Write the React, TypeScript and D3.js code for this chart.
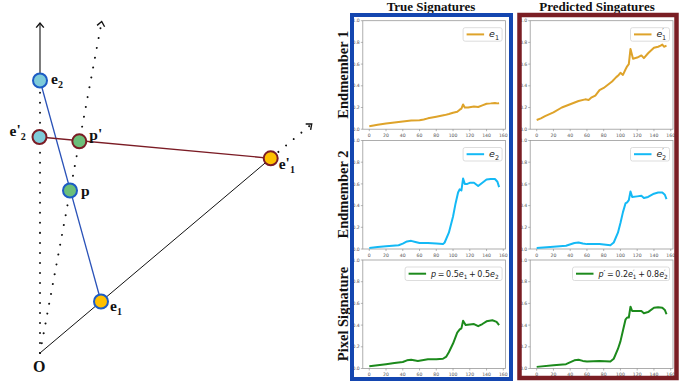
import React from 'react'
import * as d3 from 'd3'

// ---- data ----
const bandTicks = [0, 20, 40, 60, 80, 100, 120, 140, 160]
const valueTicks = [0, 0.2, 0.4, 0.6, 0.8, 1.0]

const trueE1: [number, number][] = [
  [0, 0.028], [5, 0.035], [10, 0.042], [20, 0.052], [30, 0.062], [40, 0.072], [50, 0.08],
  [60, 0.082], [65, 0.09], [70, 0.1], [80, 0.115], [90, 0.13], [95, 0.14], [100, 0.152],
  [105, 0.16], [108, 0.18], [110, 0.19], [112, 0.228], [114, 0.2], [118, 0.2], [125, 0.21],
  [130, 0.205], [135, 0.22], [140, 0.235], [145, 0.238], [150, 0.242], [153, 0.238], [155, 0.24],
]
const trueE2: [number, number][] = [
  [0, 0.01], [10, 0.018], [20, 0.025], [35, 0.035], [40, 0.05], [45, 0.07], [50, 0.075],
  [55, 0.065], [60, 0.055], [70, 0.055], [80, 0.05], [88, 0.045], [90, 0.06], [95, 0.15],
  [100, 0.3], [103, 0.42], [106, 0.52], [108, 0.55], [110, 0.54], [112, 0.65], [114, 0.6],
  [117, 0.6], [120, 0.61], [125, 0.61], [130, 0.58], [135, 0.61], [140, 0.64], [145, 0.645],
  [150, 0.645], [153, 0.62], [155, 0.57],
]
const trueP: [number, number][] = [
  [0, 0.02], [10, 0.03], [20, 0.04], [30, 0.05], [40, 0.06], [45, 0.075], [50, 0.08],
  [58, 0.07], [70, 0.085], [80, 0.085], [88, 0.09], [92, 0.11], [95, 0.15], [100, 0.23],
  [105, 0.33], [108, 0.36], [110, 0.37], [112, 0.44], [115, 0.4], [120, 0.405], [125, 0.41],
  [130, 0.39], [135, 0.41], [140, 0.435], [147, 0.445], [152, 0.43], [155, 0.4],
]
const predE1: [number, number][] = [
  [0, 0.085], [5, 0.1], [10, 0.12], [20, 0.155], [30, 0.2], [40, 0.23], [50, 0.26],
  [58, 0.275], [62, 0.27], [65, 0.29], [70, 0.31], [75, 0.36], [80, 0.38], [85, 0.41],
  [90, 0.44], [95, 0.48], [98, 0.5], [100, 0.52], [103, 0.5], [106, 0.55], [108, 0.58],
  [110, 0.6], [112, 0.74], [115, 0.65], [120, 0.66], [125, 0.68], [128, 0.655], [133, 0.7],
  [140, 0.75], [145, 0.76], [148, 0.77], [150, 0.78], [152, 0.76], [155, 0.77],
]
const predE2: [number, number][] = [
  [0, 0.01], [20, 0.02], [35, 0.03], [45, 0.055], [50, 0.06], [55, 0.05], [60, 0.045],
  [75, 0.045], [88, 0.035], [92, 0.06], [97, 0.15], [100, 0.24], [103, 0.34], [106, 0.42],
  [108, 0.43], [110, 0.45], [112, 0.53], [114, 0.48], [120, 0.485], [125, 0.49], [128, 0.47],
  [133, 0.48], [140, 0.51], [145, 0.52], [150, 0.52], [153, 0.5], [155, 0.46],
]
const predP: [number, number][] = [
  [0, 0.015], [20, 0.03], [35, 0.04], [45, 0.075], [50, 0.08], [55, 0.07], [60, 0.065],
  [75, 0.068], [88, 0.065], [92, 0.09], [97, 0.18], [100, 0.25], [103, 0.35], [106, 0.45],
  [108, 0.47], [110, 0.47], [112, 0.57], [114, 0.53], [120, 0.53], [125, 0.53], [128, 0.51],
  [133, 0.52], [140, 0.56], [145, 0.565], [150, 0.56], [153, 0.54], [155, 0.5],
]

const columnTitles = ['True Signatures', 'Predicted Singatures']
const rowTitles = ['Endmember 1', 'Endmember 2', 'Pixel Signature']

// diagram points (units from origin O, y up)
const diagramPoints = [
  { id: 'e2', x: 0, y: 272.5, fill: '#7ecbd9', stroke: '#1d5cc4' },
  { id: "e'2", x: -0.5, y: 216, fill: '#7ecbd9', stroke: '#7b1c25' },
  { id: "p'", x: 39.3, y: 211.7, fill: '#6bbf7a', stroke: '#7b1c25' },
  { id: 'p', x: 30, y: 162.5, fill: '#6bbf7a', stroke: '#1d5cc4' },
  { id: 'e1', x: 61, y: 51.5, fill: '#ffc000', stroke: '#1d5cc4' },
  { id: "e'1", x: 230.7, y: 194.7, fill: '#ffc000', stroke: '#7b1c25' },
]
const origin = { x: 0, y: 0 }
const arrowTips = [
  { x: 0, y: 330 },
  { x: 61.7, y: 331.5 },
  { x: 271.7, y: 229 },
]

const colors = { e1: '#dea32a', e2: '#14b9f5', p: '#1c8a1c' }

const sx = d3.scaleLinear().domain([0, 100]).range([40, 140])
const sy = d3.scaleLinear().domain([0, 100]).range([353, 253])

const pt = (id: string) => diagramPoints.find(d => d.id === id)!

const Label = ({ x, y, prime, sub, base = 'e' }: { x: number; y: number; prime?: boolean; sub?: string; base?: string }) => (
  <text x={x} y={y} fontFamily="'Liberation Serif', 'Times New Roman', serif" fontWeight="bold" fontSize={15.5} fill="#111">
    {base}
    {prime && <tspan dy={-1}>'</tspan>}
    {sub && <tspan fontSize={10} dy={prime ? 5 : 4}>{sub}</tspan>}
  </text>
)

const Chevron = ({ from, tip }: { from: { x: number; y: number }; tip: { x: number; y: number } }) => {
  const x1 = sx(from.x), y1 = sy(from.y), x2 = sx(tip.x), y2 = sy(tip.y)
  const a = Math.atan2(y2 - y1, x2 - x1)
  const L = 6, spread = Math.PI * 0.22
  const p1 = [x2 - L * Math.cos(a - spread), y2 - L * Math.sin(a - spread)]
  const p2 = [x2 - L * Math.cos(a + spread), y2 - L * Math.sin(a + spread)]
  return <path d={`M${p1[0]},${p1[1]}L${x2},${y2}L${p2[0]},${p2[1]}`} fill="none" stroke="#111" strokeWidth={1.4} />
}

const Diagram = () => {
  const dotted = { stroke: '#111', strokeWidth: 2, strokeDasharray: '0.01 10', strokeLinecap: 'round' as const, fill: 'none' }
  const e2 = pt('e2'), e2p = pt("e'2"), pp = pt("p'"), e1 = pt('e1'), e1p = pt("e'1")
  return (
    <g>
      {/* vertical axis */}
      <line x1={sx(origin.x)} y1={sy(origin.y)} x2={sx(e2.x)} y2={sy(e2.y)} style={dotted} />
      <line x1={sx(e2.x)} y1={sy(e2.y)} x2={sx(arrowTips[0].x)} y2={sy(arrowTips[0].y)} stroke="#111" strokeWidth={1.1} />
      <Chevron from={origin} tip={arrowTips[0]} />
      {/* ray through p, p' */}
      <line x1={sx(origin.x)} y1={sy(origin.y)} x2={sx(arrowTips[1].x)} y2={sy(arrowTips[1].y)} style={dotted} />
      <Chevron from={origin} tip={arrowTips[1]} />
      {/* ray through e1, e1' */}
      <line x1={sx(origin.x)} y1={sy(origin.y)} x2={sx(e1p.x)} y2={sy(e1p.y)} stroke="#111" strokeWidth={1} />
      <line x1={sx(e1p.x)} y1={sy(e1p.y)} x2={sx(arrowTips[2].x)} y2={sy(arrowTips[2].y)} style={dotted} />
      <Chevron from={origin} tip={arrowTips[2]} />
      {/* simplex edges */}
      <line x1={sx(e2.x)} y1={sy(e2.y)} x2={sx(e1.x)} y2={sy(e1.y)} stroke="#2a52b8" strokeWidth={1.3} />
      <line x1={sx(e2p.x)} y1={sy(e2p.y)} x2={sx(e1p.x)} y2={sy(e1p.y)} stroke="#7b1c25" strokeWidth={1.3} />
      {diagramPoints.map(d => (
        <circle key={d.id} cx={sx(d.x)} cy={sy(d.y)} r={7} fill={d.fill} stroke={d.stroke} strokeWidth={2} />
      ))}
      <Label x={sx(e2.x) + 11} y={sy(e2.y) + 3} sub="2" />
      <Label x={sx(e2p.x) - 30} y={sy(e2p.y) - 1} prime sub="2" />
      <Label x={sx(pp.x) + 10} y={sy(pp.y) - 1} base="p" prime />
      <Label x={sx(pt('p').x) + 11} y={sy(pt('p').y) + 5} base="p" />
      <Label x={sx(e1.x) + 9} y={sy(e1.y) + 9} sub="1" />
      <Label x={sx(e1p.x) + 8} y={sy(e1p.y) + 11} prime sub="1" />
      <text x={sx(origin.x) - 7} y={sy(origin.y) + 19} fontFamily="'Liberation Serif', serif" fontWeight="bold" fontSize={16} fill="#111">O</text>
    </g>
  )
}

type LegendSpec = { width: number; size: number; content: React.ReactNode }

const Panel = ({ left, top, data, color, legend }: { left: number; top: number; data: [number, number][]; color: string; legend: LegendSpec }) => {
  const w = 142.8, h = 108.5
  const x = d3.scaleLinear().domain([-7.75, 162.75]).range([left, left + w])
  const y = d3.scaleLinear().domain([0, 1]).range([top + h, top])
  const line = d3.line<[number, number]>().x(d => x(d[0])).y(d => y(d[1]))
  const lx = left + w - 3.5 - legend.width
  return (
    <g>
      <rect x={left} y={top} width={w} height={h} fill="white" stroke="#9a9a9a" strokeWidth={0.8} />
      {valueTicks.map(t => (
        <g key={t}>
          <line x1={left - 2} x2={left} y1={y(t)} y2={y(t)} stroke="#888" strokeWidth={0.6} />
          <text x={left - 3} y={y(t) + 1.6} textAnchor="end" fontSize={4.6} fontFamily="'DejaVu Sans', sans-serif" fill="#555">{t.toFixed(1)}</text>
        </g>
      ))}
      {bandTicks.map(t => (
        <g key={t}>
          <line x1={x(t)} x2={x(t)} y1={top + h} y2={top + h + 2} stroke="#888" strokeWidth={0.6} />
          <text x={x(t)} y={top + h + 7.5} textAnchor="middle" fontSize={4.6} fontFamily="'DejaVu Sans', sans-serif" fill="#555">{t}</text>
        </g>
      ))}
      <path d={line(data) ?? ''} fill="none" stroke={color} strokeWidth={2} strokeLinejoin="round" />
      <rect x={lx} y={top + 7} width={legend.width} height={13.5} rx={2} fill="white" fillOpacity={0.85} stroke="#d4d4d4" strokeWidth={0.8} />
      <line x1={lx + 3.5} x2={lx + 21} y1={top + 13.7} y2={top + 13.7} stroke={color} strokeWidth={2} />
      <text x={lx + 26} y={top + 16.5} fontSize={legend.size} fontFamily="'DejaVu Sans', sans-serif" fontStyle="italic" fill="#222">
        {legend.content}
      </text>
    </g>
  )
}

const TS = '\u2009'

const legendE = (n: string, primed: boolean): LegendSpec => ({
  width: 39,
  size: 9.5,
  content: (
    <>
      e{primed && <tspan fontSize={6.5} dy={-4}>′</tspan>}
      <tspan fontSize={6.5} dx={primed ? -1.8 : 0} dy={primed ? 6.5 : 2.5} fontStyle="normal">{n}</tspan>
    </>
  ),
})

const legendP = (primed: boolean): LegendSpec => ({
  width: 97,
  size: 8,
  content: primed ? (
    <>
      p′<tspan fontStyle="normal">{`${TS}=${TS}0.2`}</tspan>e<tspan fontSize={6} dy={-3}>′</tspan>
      <tspan fontSize={5.8} dx={-1.5} dy={5} fontStyle="normal">1</tspan>
      <tspan dy={-2} fontStyle="normal">{`${TS}+${TS}0.8`}</tspan>e<tspan fontSize={6} dy={-3}>′</tspan>
      <tspan fontSize={5.8} dx={-1.5} dy={5} fontStyle="normal">2</tspan>
    </>
  ) : (
    <>
      p<tspan fontStyle="normal">{`${TS}=${TS}0.5`}</tspan>e<tspan fontSize={5.8} dy={2} fontStyle="normal">1</tspan>
      <tspan dy={-2} fontStyle="normal">{`${TS}+${TS}0.5`}</tspan>e<tspan fontSize={5.8} dy={2} fontStyle="normal">2</tspan>
    </>
  ),
})

export default function App() {
  const rowTops = [20.7, 140.5, 260]
  const colLefts = [362.8, 530.2]
  const series = [
    [trueE1, trueE2, trueP],
    [predE1, predE2, predP],
  ]
  const rowColors = [colors.e1, colors.e2, colors.p]
  const legends = [
    [legendE('1', false), legendE('2', false), legendP(false)],
    [legendE('1', true), legendE('2', true), legendP(true)],
  ]
  const titleX = [431, 597]
  const serif = "'Liberation Serif', 'Times New Roman', serif"
  return (
    <svg width={694} height={381} style={{ position: 'absolute', left: 0, top: 0, background: 'white' }}>
      <Diagram />
      {columnTitles.map((t, i) => (
        <text key={t} x={titleX[i]} y={11} textAnchor="middle" fontFamily={serif} fontWeight="bold" fontSize={13} fill="#111">{t}</text>
      ))}
      {rowTitles.map((t, i) => (
        <text key={t} transform={`translate(347.5,${rowTops[i] + 54}) rotate(-90)`} textAnchor="middle" fontFamily={serif} fontWeight="bold" fontSize={14.5} fill="#111">{t}</text>
      ))}
      {colLefts.map((l, c) =>
        rowTops.map((tp, r) => (
          <Panel key={`${c}-${r}`} left={l} top={tp} data={series[c][r]} color={rowColors[r]} legend={legends[c][r]} />
        ))
      )}
      <rect x={352} y={15} width={159} height={364} fill="none" stroke="#1446b0" strokeWidth={4} />
      <rect x={519.5} y={15} width={157} height={363} fill="none" stroke="#7a1e24" strokeWidth={4.5} />
    </svg>
  )
}
